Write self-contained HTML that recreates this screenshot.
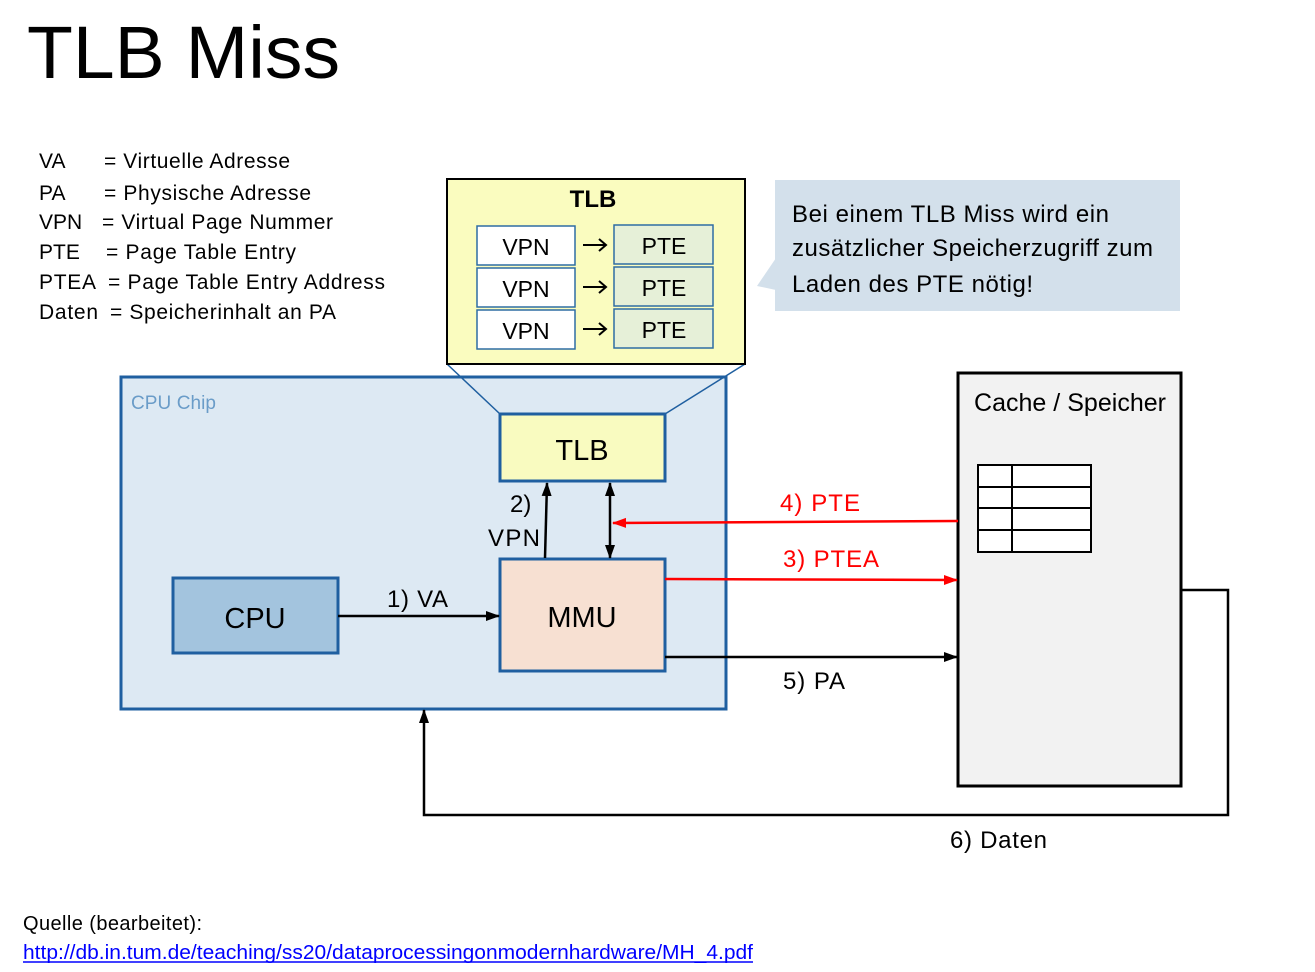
<!DOCTYPE html>
<html><head><meta charset="utf-8"><style>
body{margin:0;background:#fff}
svg{display:block}
text{font-family:"Liberation Sans",Arial,sans-serif}
</style></head><body>
<svg width="1315" height="972" viewBox="0 0 1315 972" xmlns="http://www.w3.org/2000/svg">
<defs>
<marker id="ab" markerWidth="14" markerHeight="12" refX="13" refY="6" orient="auto" markerUnits="userSpaceOnUse"><path d="M0,1 L14,6 L0,11 z" fill="#000"/></marker>
<marker id="ar" markerWidth="14" markerHeight="12" refX="13" refY="6" orient="auto" markerUnits="userSpaceOnUse"><path d="M0,1 L14,6 L0,11 z" fill="#f00"/></marker>
</defs>
<text x="27" y="78" font-size="74" textLength="313" lengthAdjust="spacingAndGlyphs">TLB Miss</text>
<g font-size="21">
<text x="39" y="168">VA</text><text x="104" y="168" textLength="186">= Virtuelle Adresse</text>
<text x="39" y="200">PA</text><text x="104" y="200" textLength="207">= Physische Adresse</text>
<text x="39" y="229">VPN</text><text x="102" y="229" textLength="231">= Virtual Page Nummer</text>
<text x="39" y="259">PTE</text><text x="106" y="259" textLength="190">= Page Table Entry</text>
<text x="39" y="289" textLength="57">PTEA</text><text x="108" y="289" textLength="277">= Page Table Entry Address</text>
<text x="39" y="319" textLength="59">Daten</text><text x="110" y="319" textLength="226">= Speicherinhalt an PA</text>
</g>
<!-- callout -->
<rect x="775" y="180" width="405" height="131" fill="#d3e0eb"/>
<path d="M776,258 L757,286 L776,290 z" fill="#d3e0eb"/>
<g font-size="24">
<text x="792" y="222" textLength="317">Bei einem TLB Miss wird ein</text>
<text x="792" y="256" textLength="361">zusätzlicher Speicherzugriff zum</text>
<text x="792" y="292" textLength="241">Laden des PTE nötig!</text>
</g>
<!-- CPU chip -->
<rect x="121" y="377" width="605" height="332" fill="#dde9f3" stroke="#1f5fa0" stroke-width="3"/>
<text x="131" y="409" font-size="19" fill="#6a9cc8" textLength="85">CPU Chip</text>
<line x1="447" y1="364" x2="500" y2="414" stroke="#1f5fa0" stroke-width="1.5"/>
<line x1="745" y1="364" x2="665" y2="414" stroke="#1f5fa0" stroke-width="1.5"/>
<!-- big TLB -->
<rect x="447" y="179" width="298" height="185" fill="#fafcbf" stroke="#000" stroke-width="2"/>
<text x="593" y="207" font-size="24" font-weight="bold" text-anchor="middle">TLB</text>
<g stroke="#2e6da4" stroke-width="1.5">
<rect x="477" y="226" width="98" height="39" fill="#fff"/>
<rect x="477" y="268" width="98" height="39" fill="#fff"/>
<rect x="477" y="310" width="98" height="39" fill="#fff"/>
<rect x="614" y="225" width="99" height="39" fill="#e6f0d8"/>
<rect x="614" y="267" width="99" height="39" fill="#e6f0d8"/>
<rect x="614" y="309" width="99" height="39" fill="#e6f0d8"/>
</g>
<g font-size="23" text-anchor="middle">
<text x="526" y="255">VPN</text><text x="526" y="297">VPN</text><text x="526" y="339">VPN</text>
<text x="664" y="254">PTE</text><text x="664" y="296">PTE</text><text x="664" y="338">PTE</text>
</g>
<g stroke="#000" stroke-width="2" fill="none">
<path d="M583,245 H605 M599,239 L606,245 L599,251"/>
<path d="M583,287 H605 M599,281 L606,287 L599,293"/>
<path d="M583,329 H605 M599,323 L606,329 L599,335"/>
</g>
<!-- small TLB -->
<rect x="500" y="414" width="165" height="67" fill="#f9fbc0" stroke="#1f5fa0" stroke-width="3"/>
<text x="582" y="460" font-size="29" text-anchor="middle">TLB</text>
<rect x="173" y="578" width="165" height="75" fill="#a3c4de" stroke="#1f5fa0" stroke-width="3"/>
<text x="255" y="628" font-size="29" text-anchor="middle">CPU</text>
<rect x="500" y="559" width="165" height="112" fill="#f7e0d2" stroke="#1f5fa0" stroke-width="3"/>
<text x="582" y="627" font-size="29" text-anchor="middle">MMU</text>
<!-- cache -->
<rect x="958" y="373" width="223" height="413" fill="#f2f2f2" stroke="#000" stroke-width="3"/>
<text x="974" y="411" font-size="25" textLength="192">Cache / Speicher</text>
<g stroke="#000" stroke-width="2">
<rect x="978" y="465" width="113" height="87" fill="#fff"/>
<line x1="978" y1="487" x2="1091" y2="487"/><line x1="978" y1="508" x2="1091" y2="508"/><line x1="978" y1="530" x2="1091" y2="530"/>
<line x1="1012" y1="465" x2="1012" y2="552"/>
</g>
<!-- arrows -->
<g stroke-width="2.5" fill="none">
<line x1="338" y1="616" x2="499" y2="616" stroke="#000" marker-end="url(#ab)"/>
<line x1="545" y1="558" x2="547" y2="483" stroke="#000" marker-end="url(#ab)"/>
<line x1="610" y1="520" x2="610" y2="483" stroke="#000" marker-end="url(#ab)"/>
<line x1="610" y1="520" x2="610" y2="558" stroke="#000" marker-end="url(#ab)"/>
<line x1="958" y1="521" x2="613" y2="523" stroke="#f00" marker-end="url(#ar)"/>
<line x1="665" y1="579" x2="957" y2="580" stroke="#f00" marker-end="url(#ar)"/>
<line x1="665" y1="657" x2="957" y2="657" stroke="#000" marker-end="url(#ab)"/>
<polyline points="1181,590 1228,590 1228,815 424,815 424,710" stroke="#000" marker-end="url(#ab)"/>
</g>
<g font-size="24">
<text x="387" y="607" textLength="61">1) VA</text>
<text x="510" y="512">2)</text>
<text x="488" y="546" textLength="52">VPN</text>
<text x="780" y="511" fill="#f00" textLength="80">4) PTE</text>
<text x="783" y="567" fill="#f00" textLength="96">3) PTEA</text>
<text x="783" y="689" textLength="62">5) PA</text>
<text x="950" y="848" textLength="97">6) Daten</text>
</g>
<text x="23" y="930" font-size="20" textLength="179">Quelle (bearbeitet):</text>
<text x="23" y="959" font-size="20" fill="#00f" textLength="730" lengthAdjust="spacingAndGlyphs">http://db.in.tum.de/teaching/ss20/dataprocessingonmodernhardware/MH_4.pdf</text>
<line x1="23" y1="962" x2="753" y2="962" stroke="#00f" stroke-width="1.5"/>
</svg>
</body></html>
